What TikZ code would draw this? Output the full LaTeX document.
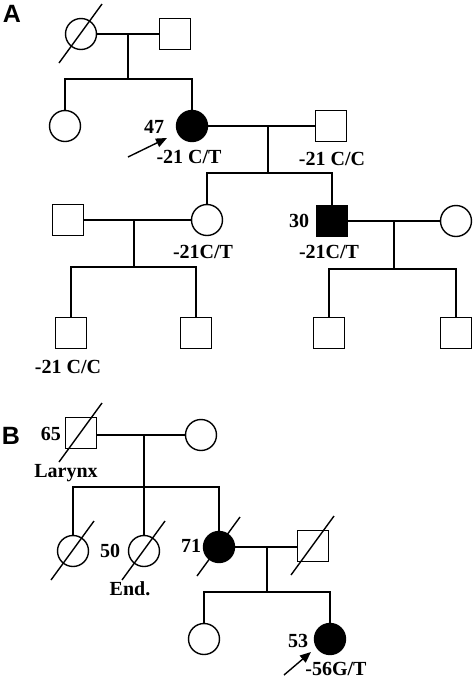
\documentclass[tikz,border=0pt]{standalone}
\usepackage{fontspec}
\setmainfont{Liberation Serif}
\newfontfamily\panelfont{Liberation Sans}
\usetikzlibrary{arrows.meta, calc}
\tikzset{
  female/.style={circle, draw, line width=1.4pt, fill=white, minimum size=31pt, inner sep=0pt},
  male/.style={rectangle, draw, line width=1.4pt, fill=white, minimum size=31pt, inner sep=0pt},
  affected/.style={fill=black},
  line/.style={line width=1.4pt},
  slash/.style={line width=1.4pt},
  txt/.style={font=\fontsize{20}{22}\selectfont\bfseries, inner sep=0pt},
  panel/.style={font=\panelfont\fontsize{25}{28}\selectfont\bfseries, inner sep=0pt},
  proband/.style={-{Triangle[length=11pt,width=9pt]}, line width=1.4pt},
}
\newcommand{\deceased}[1]{\draw[slash] ($(#1)+(-22,29)$) -- ($(#1)+(21,-30)$);}

\begin{document}
\begin{tikzpicture}[x=1pt, y=-1pt]
\useasboundingbox (0,0) rectangle (474,681);
% panel A
\node[panel] (pA) at (12,14) {A};
\node[female] (a1) at (81,34) {};
\node[male] (a2) at (175,34) {};
\node[female] (a3) at (65,126) {};
\node[female, affected] (a4) at (192,126) {};
\node[male] (a5) at (331,126) {};
\node[male] (a6) at (68,220) {};
\node[female] (a7) at (207,220) {};
\node[male, affected] (a8) at (332,221) {};
\node[female] (a9) at (456,221) {};
\node[male] (a10) at (71,333) {};
\node[male] (a11) at (196,333) {};
\node[male] (a12) at (329,333) {};
\node[male] (a13) at (456,333) {};
\deceased{a1}
\coordinate (dA1) at (128,34);  \coordinate (sA1) at (128,79);
\coordinate (dA2) at (268,126); \coordinate (sA2) at (268,173);
\coordinate (dA3) at (134,220); \coordinate (sA3) at (134,267);
\coordinate (dA4) at (394,221); \coordinate (sA4) at (394,269);
\draw[line] (a1.east) -- (a2.west);
\draw[line] (dA1) -- (sA1);
\draw[line] (a3.north) |- (sA1) -| (a4.north);
\draw[line] (a4.east) -- (a5.west);
\draw[line] (dA2) -- (sA2);
\draw[line] (a7.north) |- (sA2) -| (a8.north);
\draw[line] (a6.east) -- (a7.west);
\draw[line] (dA3) -- (sA3);
\draw[line] (a10.north) |- (sA3) -| (a11.north);
\draw[line] (a8.east) -- (a9.west);
\draw[line] (dA4) -- (sA4);
\draw[line] (a12.north) |- (sA4) -| (a13.north);
\node[txt] (ageA4) at (154,127) {47};
\node[txt] (genA4) at (189,157) {-21 C/T};
\node[txt] (genA5) at (332,159) {-21 C/C};
\node[txt] (genA7) at (203,252) {-21C/T};
\node[txt] (ageA8) at (299,221) {30};
\node[txt] (genA8) at (329,252) {-21C/T};
\node[txt] (genA10) at (68,367) {-21 C/C};
\coordinate (arrA) at (128,157);
\draw[proband] (arrA) -- ($(a4)+(-25,12)$);
% panel B
\node[panel] (pB) at (11,436) {B};
\node[male] (b1) at (81,433) {};
\node[female] (b2) at (201,435) {};
\node[female] (b3) at (73,551) {};
\node[female] (b4) at (144,551) {};
\node[female, affected] (b5) at (219,547) {};
\node[male] (b6) at (313,546) {};
\node[female] (b7) at (204,639) {};
\node[female, affected] (b8) at (330,639) {};
\coordinate (dB1) at (144,435); \coordinate (sB1) at (144,487);
\coordinate (dB2) at (267,547); \coordinate (sB2) at (267,592);
\draw[line] (b1.east |- b2) -- (b2.west);
\draw[line] (dB1) -- (sB1) -- (b4.north);
\draw[line] (b3.north) |- (sB1) -| (b5.north);
\draw[line] (b5.east) -- (b6.west |- b5);
\draw[line] (dB2) -- (sB2);
\draw[line] (b7.north) |- (sB2) -| (b8.north);
\deceased{b1}
\deceased{b3}
\deceased{b4}
\deceased{b5}
\deceased{b6}
\node[txt] (ageB1) at (51,434) {65};
\node[txt] (canB1) at (66,473) {Larynx};
\node[txt] (ageB4) at (110,551) {50};
\node[txt] (canB4) at (130,589) {End.};
\node[txt] (ageB5) at (191,546) {71};
\node[txt] (ageB8) at (298,641) {53};
\node[txt] (genB8) at (336,669) {-56G/T};
\coordinate (arrB) at (284,675);
\draw[proband] (arrB) -- ($(b8)+(-19,13)$);
\end{tikzpicture}
\end{document}
